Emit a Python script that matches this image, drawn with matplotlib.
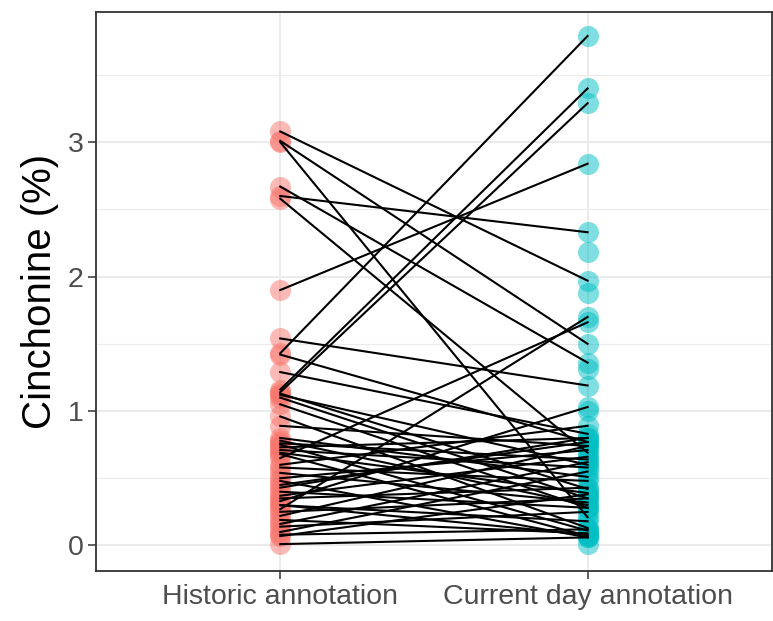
import matplotlib.pyplot as plt
import numpy as np

plt.rcParams['font.family'] = ['Liberation Sans', 'DejaVu Sans']

groups = ['Historic annotation', 'Current day annotation']
colors = ['#F8766D', '#00BFC4']

# paired samples (historic value, current day value); nan = not measured
historic = [3.08, 3.01, 3.00, 2.67, 2.60, 2.58, 1.90, 1.54, 1.43, 1.42,
            1.29, 1.16, 1.14, 1.13, 1.12, 1.10, 1.05, 0.96, 0.89, 0.80,
            0.78, 0.76, 0.75, 0.73, 0.71, 0.69, 0.68, 0.65, 0.60, 0.58,
            0.54, 0.50, 0.48, 0.43, 0.40, 0.37, 0.35, 0.33, 0.30, 0.27,
            0.25, 0.22, 0.19, 0.16, 0.14, 0.10, 0.08, 0.07, 0.01, 0.45,
            0.30, np.nan, np.nan, np.nan, np.nan, np.nan]
current = [1.97, 1.50, 0.21, 1.36, 2.33, 0.69, 2.84, 1.19, 3.79, 0.77,
           0.83, 3.40, 3.29, 0.42, 0.60, 0.35, 0.28, 0.13, 0.74, 0.51,
           0.30, 0.64, 0.11, 0.80, 0.58, 0.39, 0.07, 1.66, 0.89, 0.48,
           0.32, 0.71, 0.06, 0.80, 0.28, 0.66, 0.43, 1.03, 0.18, 1.70,
           0.35, 0.74, 0.09, 0.62, 0.25, 0.55, 0.12, 0.38, 0.06, 0.77,
           0.08, 2.18, 1.88, 1.31, 1.00, 0.01]

historic = np.array(historic)
current = np.array(current)

fig, ax = plt.subplots(figsize=(7.73, 6.21), dpi=100)
fig.subplots_adjust(left=0.124, right=0.9987, top=0.981, bottom=0.0805)

ax.scatter(np.full(len(historic), 1), historic, s=230, color=colors[0], alpha=0.5,
           linewidths=0, zorder=2)
ax.scatter(np.full(len(current), 2), current, s=230, color=colors[1], alpha=0.5,
           linewidths=0, zorder=2)

for h, c in zip(historic, current):
    if np.isnan(h) or np.isnan(c):
        continue
    ax.plot([1, 2], [h, c], color='black', lw=1.5, zorder=3)

ax.set_xlim(0.4, 2.6)
ax.set_ylim(-0.19, 3.97)
ax.set_xticks([1, 2])
ax.set_xticklabels(groups)
ax.set_yticks([0, 1, 2, 3])
ax.set_yticks([0.5, 1.5, 2.5, 3.5], minor=True)
ax.tick_params(axis='both', which='major', labelsize=20.5, colors='#333333',
               labelcolor='#4D4D4D', length=6, width=1.1, pad=3)
ax.tick_params(axis='y', which='minor', length=0)

ax.grid(True, which='major', color='#EBEBEB', lw=1.5, zorder=0)
ax.grid(True, which='minor', axis='y', color='#EBEBEB', lw=0.8, zorder=0)
ax.set_axisbelow(True)
for sp in ax.spines.values():
    sp.set_color('#333333')
    sp.set_linewidth(1.3)

ax.set_ylabel('Cinchonine (%)', fontsize=29, color='black', labelpad=6)

plt.savefig('out.png')
